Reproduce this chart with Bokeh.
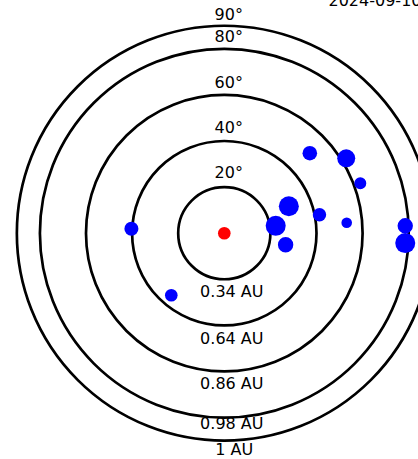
from bokeh.plotting import figure
from bokeh.models import Range1d, ColumnDataSource
from bokeh.core.properties import value
from bokeh.embed import file_html
from bokeh.resources import INLINE

# ---- data ----
ring_deg = [20, 40, 60, 80, 90]
ring_deg_labels = ["20°", "40°", "60°", "80°", "90°"]
ring_au_labels = ["0.34 AU", "0.64 AU", "0.86 AU", "0.98 AU", "1 AU"]

obj_x = [37.1, 52.9, 59.0, 28.0, 41.3, 53.1, 22.3, 26.6, 78.5, 78.5, -40.3, -23.0]
obj_y = [34.7, 32.5, 21.7, 11.7, 8.0, 4.5, 3.2, -5.0, 3.2, -4.3, 1.9, -26.9]
obj_size = [14.6, 18, 12, 20, 13.4, 10.6, 20, 15.4, 15.4, 20, 14, 12.6]

sun_x = [0.0]
sun_y = [0.0]
sun_size = [12.6]

title_text = "2024-09-10"

# ---- layout (pixels) ----
S = 2.305                 # px per degree
CX, CY = 223.8, 232.7     # centre on page
LEFT, TOP = 0, -12        # canvas origin on page (page has no body margin)
W, H = 418, 471
TXT = 6.0                 # renderer baseline correction (px, upwards)

deg_lab_dy = [8.3, 7.2, 6.4, 6.6, 5.4]       # baseline above ring top
au_lab_dy = [18.2, 18.8, 18.0, 11.6, 15.2]    # baseline below ring bottom
deg_lab_dx = 4.5
au_lab_dx = [7.5, 7.5, 7.5, 7.5, 10.0]

p = figure(width=W, height=H, output_backend="svg", toolbar_location=None,
           x_range=Range1d((LEFT - CX) / S, (LEFT + W - CX) / S),
           y_range=Range1d((CY - (TOP + H)) / S, (CY - TOP) / S),
           min_border=0, outline_line_color=None)
p.styles = {"margin-top": f"{TOP}px"}
p.axis.visible = False
p.grid.visible = False
p.background_fill_color = "white"
p.border_fill_color = "white"

# rings
p.circle(x=[0] * len(ring_deg), y=[0] * len(ring_deg), radius=ring_deg,
         fill_color=None, line_color="black", line_width=2.7)

# degree labels
p.text(x=[deg_lab_dx / S] * len(ring_deg),
       y=[r + (d + TXT) / S for r, d in zip(ring_deg, deg_lab_dy)],
       text=ring_deg_labels, text_align="center", text_baseline="alphabetic",
       text_font=value("DejaVu Sans"), text_font_size="16px", text_color="black")

# AU labels
p.text(x=[d / S for d in au_lab_dx],
       y=[-(r + (d - TXT) / S) for r, d in zip(ring_deg, au_lab_dy)],
       text=ring_au_labels, text_align="center", text_baseline="alphabetic",
       text_font=value("DejaVu Sans"), text_font_size="16px", text_color="black")

# objects
src = ColumnDataSource(dict(x=obj_x, y=obj_y, size=obj_size))
p.scatter("x", "y", size="size", source=src, fill_color="#0000ff", line_color=None)
p.scatter(sun_x, sun_y, size=sun_size, fill_color="#ff0000", line_color=None)

# title (partly cut off at the top)
p.text(x=[(328 - CX) / S], y=[(CY - 5.3 + TXT) / S], text=[title_text],
       text_align="left", text_baseline="alphabetic",
       text_font=value("DejaVu Sans"), text_font_size="16px", text_color="black")

open("out.html", "w").write(file_html(p, INLINE))
